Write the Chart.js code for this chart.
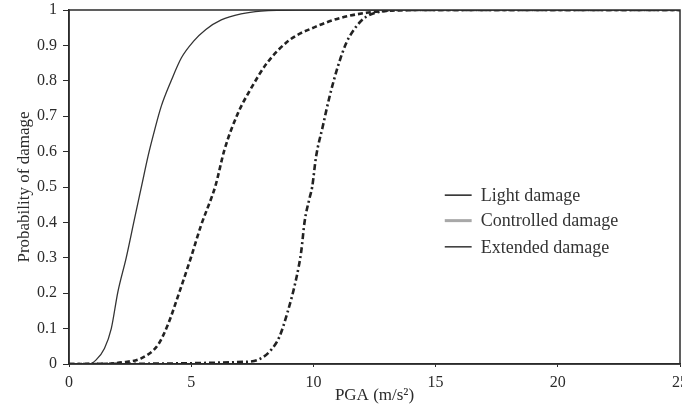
<!DOCTYPE html>
<html>
<head>
<meta charset="utf-8">
<script src="https://cdn.jsdelivr.net/npm/chart.js@4.4.1/dist/chart.umd.min.js"></script>
<style>
  html, body { margin: 0; padding: 0; background: #fff; overflow: hidden; }
  #wrap { width: 682px; height: 416px; }
</style>
</head>
<body>
<div id="wrap"><canvas id="chart"></canvas></div>
<script>
// fragility curves
const seriesNames = ['Light damage', 'Controlled damage', 'Extended damage'];

const pgaLight = [0, 0.5, 0.8, 1.1, 1.45, 1.73, 2.0, 2.34, 2.68, 2.98, 3.23, 3.5, 3.77, 4.18, 4.6, 5.1, 5.6, 6.23, 7.04, 7.86, 9.4, 12, 25];
const probLight = [0, 0, 0, 0.011, 0.044, 0.10, 0.204, 0.30, 0.41, 0.506, 0.586, 0.66, 0.727, 0.80, 0.865, 0.912, 0.945, 0.972, 0.989, 0.997, 1, 1, 1];

const pgaControlled = [0, 1.3, 2.2, 2.95, 3.64, 4.04, 4.52, 5.0, 5.41, 5.82, 6.0, 6.36, 6.91, 7.42, 8.1, 9.02, 10.1, 11.07, 12.16, 13.1, 15, 25];
const probControlled = [0, 0, 0.005, 0.016, 0.054, 0.11, 0.204, 0.303, 0.393, 0.468, 0.505, 0.605, 0.708, 0.775, 0.85, 0.915, 0.953, 0.977, 0.992, 0.998, 1, 1];

const pgaExtended = [0, 7.11, 7.8, 8.27, 8.61, 8.95, 9.3, 9.5, 9.64, 9.84, 9.95, 10.11, 10.38, 10.66, 11.0, 11.34, 11.75, 12.16, 12.7, 13.5, 15, 25];
const probExtended = [0, 0.006, 0.014, 0.04, 0.077, 0.148, 0.242, 0.317, 0.402, 0.468, 0.50, 0.586, 0.67, 0.755, 0.84, 0.906, 0.953, 0.981, 0.995, 1, 1, 1];

const xTitle = 'PGA (m/s\u00B2)';
const yTitle = 'Probability of damage';

const serif = "'Liberation Serif', 'DejaVu Serif', serif";
const ink = '#2b2b2b';

function pts(xs, ys) {
    return xs.map((x, i) => ({ x: x, y: ys[i] }));
}

// box round the plot + legend inside it
const boxAndLegend = {
    id: 'boxAndLegend',
    afterDraw(chart) {
        const { ctx, chartArea: a } = chart;
        ctx.save();
        ctx.strokeStyle = ink;
        ctx.lineWidth = 1.5;
        ctx.strokeRect(a.left, a.top, a.right - a.left, a.bottom - a.top);

        const w = a.right - a.left, h = a.bottom - a.top;
        const x0 = a.left + w * 0.615, x1 = a.left + w * 0.659, xt = a.left + w * 0.674;
        const rows = [0.523, 0.595, 0.669];
        const colors = ['#222', '#a8a8a8', '#333'];
        const widths = [1.5, 3, 1.5];
        ctx.font = '18px ' + serif;
        ctx.textBaseline = 'middle';
        ctx.fillStyle = '#333';
        seriesNames.forEach((name, i) => {
            const y = a.top + h * rows[i];
            ctx.beginPath();
            ctx.strokeStyle = colors[i];
            ctx.lineWidth = widths[i];
            ctx.moveTo(x0, y);
            ctx.lineTo(x1, y);
            ctx.stroke();
            ctx.fillText(name, xt, y + 1);
        });
        ctx.restore();
    }
};

new Chart(document.getElementById('chart'), {
    type: 'line',
    data: {
        datasets: [
            {
                label: seriesNames[0],
                data: pts(pgaLight, probLight),
                borderColor: '#333',
                borderWidth: 1.3,
                pointRadius: 0,
                cubicInterpolationMode: 'monotone'
            },
            {
                label: seriesNames[1],
                data: pts(pgaControlled, probControlled),
                borderColor: '#222',
                borderWidth: 2.6,
                borderDash: [5, 3],
                pointRadius: 0,
                cubicInterpolationMode: 'monotone'
            },
            {
                label: seriesNames[2],
                data: pts(pgaExtended, probExtended),
                borderColor: '#222',
                borderWidth: 2.6,
                borderDash: [6, 3, 2, 3],
                pointRadius: 0,
                cubicInterpolationMode: 'monotone'
            }
        ]
    },
    options: {
        responsive: true,
        maintainAspectRatio: false,
        animation: false,
        layout: { padding: { top: 10, right: 0, left: 0, bottom: 0 } },
        plugins: {
            legend: { display: false },
            tooltip: { enabled: false }
        },
        scales: {
            x: {
                type: 'linear',
                min: 0,
                max: 25,
                ticks: { stepSize: 5, color: ink, font: { family: serif, size: 16 }, padding: 6, maxRotation: 0 },
                grid: { drawOnChartArea: false, drawTicks: true, tickLength: 3, color: ink },
                border: { display: true, color: ink, width: 1.5 },
                title: { display: true, text: xTitle, color: ink, font: { family: serif, size: 17 }, padding: { top: 0, bottom: 10 } },
                // last label ("25") runs off the right edge, as in the figure
                afterFit: s => { s.height = 52; s.paddingRight = 2; }
            },
            y: {
                min: 0,
                max: 1,
                ticks: {
                    stepSize: 0.1, color: ink, font: { family: serif, size: 16 }, padding: 6,
                    callback: v => String(Number(v.toFixed(1)))
                },
                grid: { drawOnChartArea: false, drawTicks: true, tickLength: 6, color: ink },
                border: { display: true, color: ink, width: 1.5 },
                title: { display: true, text: yTitle, color: ink, font: { family: serif, size: 17 }, padding: { top: 14, bottom: 0 } },
                afterFit: s => { s.width = 69; s.paddingTop = 0; }
            }
        }
    },
    plugins: [boxAndLegend]
});
</script>
</body>
</html>
